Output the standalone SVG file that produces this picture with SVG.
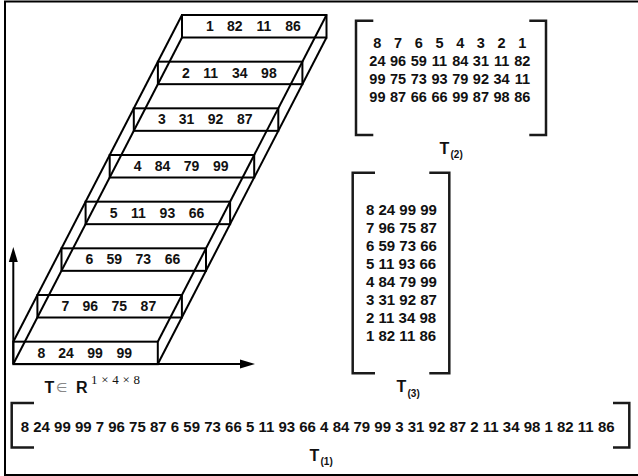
<svg xmlns="http://www.w3.org/2000/svg" width="638" height="476" viewBox="0 0 638 476">
<style>
.ln{fill:none;stroke:#000;stroke-width:2}
.br{fill:none;stroke:#1a1a1a;stroke-width:2.5}
.num{font-family:"Liberation Sans",Arial,sans-serif;font-weight:bold;font-size:14px;fill:#111;text-anchor:middle}
.mat{font-family:"Liberation Sans",Arial,sans-serif;font-weight:bold;font-size:14.5px;fill:#111}
.big{font-family:"Liberation Sans",Arial,sans-serif;font-weight:bold;font-size:15px;fill:#111}
.lbl{font-family:"Liberation Sans",Arial,sans-serif;font-weight:bold;font-size:16px;fill:#111}
.sub{font-family:"Liberation Sans",Arial,sans-serif;font-weight:bold;font-size:10px;fill:#111}
</style>
<rect x="0" y="0" width="638" height="476" fill="#fff"/>
<rect x="5" y="1.5" width="640" height="473.5" class="ln"/>

<g id="slab">
  <line x1="182" y1="15" x2="13.3" y2="341.7" class="ln"/>
  <line x1="182" y1="37.5" x2="13.3" y2="364" class="ln"/>
  <line x1="326.5" y1="15" x2="157.8" y2="341.7" class="ln"/>
  <line x1="326.5" y1="37.5" x2="157.8" y2="364" class="ln"/>
</g>
<g id="slice1"><rect x="182" y="15" width="144.5" height="22.5" class="ln"/>
  <text class="num" y="31"><tspan x="210">1</tspan><tspan x="234.8">82</tspan><tspan x="263.8">11</tspan><tspan x="293">86</tspan></text></g>
<g id="slice2"><rect x="157.9" y="61.67" width="144.5" height="22.5" class="ln"/>
  <text class="num" y="77.67"><tspan x="185.9">2</tspan><tspan x="210.7">11</tspan><tspan x="239.7">34</tspan><tspan x="268.9">98</tspan></text></g>
<g id="slice3"><rect x="133.8" y="108.33" width="144.5" height="22.5" class="ln"/>
  <text class="num" y="124.33"><tspan x="161.8">3</tspan><tspan x="186.6">31</tspan><tspan x="215.6">92</tspan><tspan x="244.8">87</tspan></text></g>
<g id="slice4"><rect x="109.7" y="155" width="144.5" height="22.5" class="ln"/>
  <text class="num" y="171"><tspan x="137.7">4</tspan><tspan x="162.5">84</tspan><tspan x="191.5">79</tspan><tspan x="220.7">99</tspan></text></g>
<g id="slice5"><rect x="85.6" y="201.67" width="144.5" height="22.5" class="ln"/>
  <text class="num" y="217.67"><tspan x="113.6">5</tspan><tspan x="138.4">11</tspan><tspan x="167.4">93</tspan><tspan x="196.6">66</tspan></text></g>
<g id="slice6"><rect x="61.5" y="248.33" width="144.5" height="22.5" class="ln"/>
  <text class="num" y="264.33"><tspan x="89.5">6</tspan><tspan x="114.3">59</tspan><tspan x="143.3">73</tspan><tspan x="172.5">66</tspan></text></g>
<g id="slice7"><rect x="37.4" y="295" width="144.5" height="22.5" class="ln"/>
  <text class="num" y="311"><tspan x="65.4">7</tspan><tspan x="90.2">96</tspan><tspan x="119.2">75</tspan><tspan x="148.4">87</tspan></text></g>
<g id="slice8"><rect x="13.3" y="341.67" width="144.5" height="22.5" class="ln"/>
  <text class="num" y="357.67"><tspan x="41.3">8</tspan><tspan x="66.1">24</tspan><tspan x="95.1">99</tspan><tspan x="124.3">99</tspan></text></g>

<g id="connectors">
  <line x1="13.3" y1="364" x2="13.3" y2="261" class="ln"/>
  <polygon points="13.3,247 8.8,262 17.8,262" fill="#000"/>
  <line x1="13" y1="364" x2="241" y2="364" class="ln"/>
  <polygon points="255,364 240,359.5 240,368.5" fill="#000"/>
</g>

<g id="tensor-label">
  <text class="lbl" x="44.5" y="393">T</text>
  <text x="56" y="392" font-family="'DejaVu Sans',sans-serif" font-size="13" fill="#888">∈</text>
  <text class="lbl" x="76" y="393">R</text>
  <text x="91" y="384" font-family="'Liberation Serif','Times New Roman',serif" font-size="13" fill="#111" textLength="49" lengthAdjust="spacing">1 × 4 × 8</text>
</g>

<g id="T2">
  <path d="M373.3,20.7 H356 V135 H373.3" class="br"/>
  <path d="M529.3,20.7 H546 V135 H529.3" class="br"/>
  <text class="mat" y="48" text-anchor="middle"><tspan x="377.4">8</tspan><tspan x="398.1">7</tspan><tspan x="418.8">6</tspan><tspan x="439.5">5</tspan><tspan x="460.2">4</tspan><tspan x="480.9">3</tspan><tspan x="501.6">2</tspan><tspan x="522.3">1</tspan></text>
  <text class="mat" y="66" text-anchor="middle"><tspan x="377.4">24</tspan><tspan x="398.1">96</tspan><tspan x="418.8">59</tspan><tspan x="439.5">11</tspan><tspan x="460.2">84</tspan><tspan x="480.9">31</tspan><tspan x="501.6">11</tspan><tspan x="522.3">82</tspan></text>
  <text class="mat" y="84" text-anchor="middle"><tspan x="377.4">99</tspan><tspan x="398.1">75</tspan><tspan x="418.8">73</tspan><tspan x="439.5">93</tspan><tspan x="460.2">79</tspan><tspan x="480.9">92</tspan><tspan x="501.6">34</tspan><tspan x="522.3">11</tspan></text>
  <text class="mat" y="102" text-anchor="middle"><tspan x="377.4">99</tspan><tspan x="398.1">87</tspan><tspan x="418.8">66</tspan><tspan x="439.5">66</tspan><tspan x="460.2">99</tspan><tspan x="480.9">87</tspan><tspan x="501.6">98</tspan><tspan x="522.3">86</tspan></text>
  <text class="lbl" x="439.5" y="154">T</text><text class="sub" x="450.5" y="158">(2)</text>
</g>

<g id="T3">
  <path d="M375,172.7 H352.7 V373.3 H375" class="br"/>
  <path d="M429.3,172.7 H449.3 V373.3 H429.3" class="br"/>
  <text class="big" x="366" y="215">8 24 99 99</text>
  <text class="big" x="366" y="233">7 96 75 87</text>
  <text class="big" x="366" y="251">6 59 73 66</text>
  <text class="big" x="366" y="269">5 11 93 66</text>
  <text class="big" x="366" y="287">4 84 79 99</text>
  <text class="big" x="366" y="305">3 31 92 87</text>
  <text class="big" x="366" y="322.5">2 11 34 98</text>
  <text class="big" x="366" y="340.5">1 82 11 86</text>
  <text class="lbl" x="396.5" y="392">T</text><text class="sub" x="407.5" y="397">(3)</text>
</g>

<g id="T1">
  <path d="M34,403 H11.7 V447.5 H34" class="br"/>
  <path d="M613,403 H629.3 V447.5 H613" class="br"/>
  <text class="big" x="20.7" y="431.5">8 24 99 99 7 96 75 87 6 59 73 66 5 11 93 66 4 84 79 99 3 31 92 87 2 11 34 98 1 82 11 86</text>
  <text class="lbl" x="309.5" y="460.5">T</text><text class="sub" x="320.5" y="465">(1)</text>
</g>
</svg>
